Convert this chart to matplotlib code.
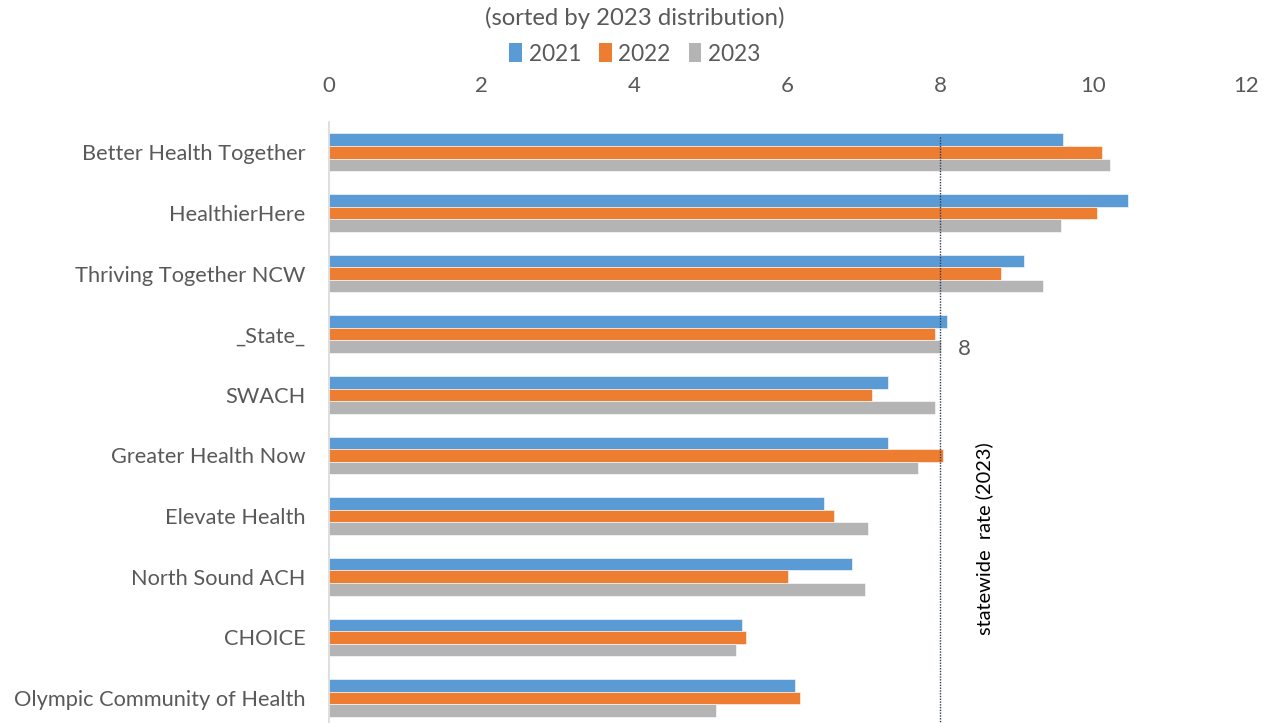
import matplotlib
matplotlib.use("Agg")
import matplotlib.pyplot as plt
from matplotlib.patches import Patch
import numpy as np

categories = ["Better Health Together", "HealthierHere", "Thriving Together NCW", "_State_",
              "SWACH", "Greater Health Now", "Elevate Health", "North Sound ACH", "CHOICE",
              "Olympic Community of Health"]
v2021 = [9.61, 10.45, 9.10, 8.09, 7.31, 7.32, 6.48, 6.84, 5.40, 6.10]
v2022 = [10.12, 10.05, 8.80, 7.93, 7.10, 8.04, 6.61, 6.00, 5.46, 6.16]
v2023 = [10.22, 9.58, 9.35, 8.01, 7.93, 7.71, 7.05, 7.02, 5.32, 5.07]
series_labels = ["2021", "2022", "2023"]
colors = ["#5B9BD5", "#ED7D31", "#B4B4B4"]
statewide_rate = 8.0
xticks = [0, 2, 4, 6, 8, 10, 12]

plt.rcParams['font.family'] = ['Lato', 'DejaVu Sans']
txt = "#595959"

fig = plt.figure(figsize=(12.7, 7.23), dpi=100)
ax = fig.add_axes([329/1270, 0, (1246-329)/1270, 1 - 122/723])

y = np.arange(len(categories))
h = 0.207
for i, (vals, c, lab) in enumerate(zip([v2021, v2022, v2023], colors, series_labels)):
    ax.barh(y + (i - 1) * h, vals, height=h, color=c, label=lab,
            edgecolor="white", linewidth=0.4)

ax.set_xlim(0, 12)
ax.set_ylim(9 + (723 - 698) / 60.7, -0.5)
ax.set_yticks(y)
ax.set_yticklabels(categories, fontsize=15.7, color=txt)
ax.set_xticks(xticks)
ax.set_xticklabels([str(t) for t in xticks], fontsize=16, color=txt)
ax.xaxis.tick_top()
ax.tick_params(axis='both', length=0)
ax.tick_params(axis='x', pad=19)
ax.tick_params(axis='y', pad=17)
for s in ["top", "right", "bottom"]:
    ax.spines[s].set_visible(False)
ax.spines["left"].set_color("#D9D9D9")
ax.spines["left"].set_linewidth(1.2)

# statewide line
ax.plot([statewide_rate, statewide_rate], [-0.25, 9.6], linestyle=(0, (1, 1)),
        color="#2F3B55", linewidth=1.0, clip_on=True)
ax.text(statewide_rate + 0.23, 3.24, "8", fontsize=16, color=txt, ha="left", va="center")
ax.text(statewide_rate + 0.57, 6.37, "statewide  rate (2023)", fontsize=14.4, color="black",
        rotation=90, ha="center", va="center")

fig.text(0.5, 1 - 18/723, "(sorted by 2023 distribution)", fontsize=17.2, color=txt,
         ha="center", va="center")
handles = [Patch(facecolor=c, label=l) for c, l in zip(colors, series_labels)]
fig.legend(handles=handles, loc="center", bbox_to_anchor=(0.5, 1 - 54/723), ncol=3,
           frameon=False, fontsize=16.3, handlelength=0.55, handleheight=0.9,
           handletextpad=0.3, columnspacing=0.8, labelcolor=txt)

fig.savefig("out.png", dpi=100)
